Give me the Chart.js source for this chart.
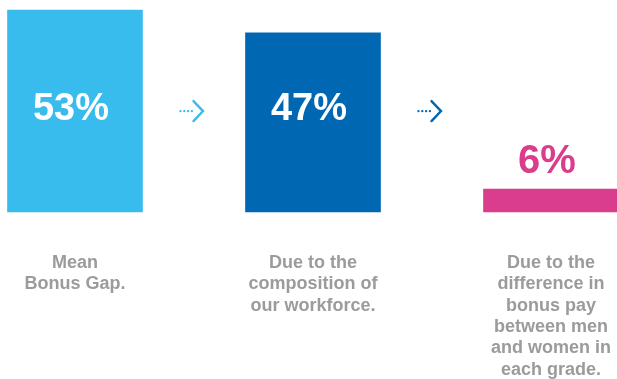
<!DOCTYPE html>
<html lang="en">
<head>
  <meta charset="UTF-8">
  <title>Bonus Gap</title>
  <script src="https://cdn.jsdelivr.net/npm/chart.js"></script>
  <style>
    body { margin: 0; background: #ffffff; }
    .chart-container { width: 617px; height: 379px; position: relative; }
  </style>
</head>
<body>
  <div class="chart-container"><canvas id="gapChart"></canvas></div>
  <script>
    // data
    const categories = [
      ["Mean", "Bonus Gap."],
      ["Due to the", "composition of", "our workforce."],
      ["Due to the", "difference in", "bonus pay", "between men", "and women in", "each grade."]
    ];
    const gapValues = [53, 47, 6];
    const barColors = ["#38BCEE", "#0068B2", "#DB3D8D"];

    const FONT = '"Liberation Sans", Arial, Helvetica, sans-serif';

    function drawArrow(ctx, cx, cy, color) {
      ctx.fillStyle = color;
      ctx.strokeStyle = color;
      for (let k = 0; k < 4; k++) {
        ctx.beginPath();
        ctx.arc(cx - 11 + k * 3.8, cy, 1.2, 0, Math.PI * 2);
        ctx.fill();
      }
      ctx.lineWidth = 2.4;
      ctx.lineCap = 'round';
      ctx.lineJoin = 'miter';
      ctx.beginPath();
      ctx.moveTo(cx + 2, cy - 10);
      ctx.lineTo(cx + 11.5, cy);
      ctx.lineTo(cx + 2, cy + 10);
      ctx.stroke();
    }

    const annotate = {
      id: 'annotate',
      afterDatasetsDraw(chart) {
        const { ctx, scales: { y } } = chart;
        const bars = chart.getDatasetMeta(0).data;
        const midY = y.getPixelForValue(27);
        ctx.save();
        ctx.textAlign = 'center';
        ctx.textBaseline = 'middle';
        bars.forEach((bar, i) => {
          const v = gapValues[i];
          if (v > 20) {
            ctx.fillStyle = '#ffffff';
            ctx.font = 'bold 38px ' + FONT;
            ctx.fillText(v + '%', bar.x - 4, midY);
          } else {
            ctx.fillStyle = barColors[i];
            ctx.font = 'bold 40px ' + FONT;
            ctx.fillText(v + '%', bar.x - 4, bar.y - 27);
          }
        });
        // arrows sit a fixed gap after the right edge of the bar before them
        for (let i = 0; i < bars.length - 1; i++) {
          const right = bars[i].x + bars[i].width / 2;
          drawArrow(ctx, right + 49, midY + 2, barColors[i]);
        }
        ctx.restore();
      }
    };

    new Chart(document.getElementById('gapChart').getContext('2d'), {
      type: 'bar',
      data: {
        labels: categories,
        datasets: [{
          data: gapValues,
          backgroundColor: barColors,
          borderWidth: 0,
          barThickness: 135,
          clip: false
        }]
      },
      options: {
        responsive: true,
        maintainAspectRatio: false,
        animation: false,
        layout: { padding: { top: 10, left: 75, right: 66, bottom: 0 } },
        plugins: { legend: { display: false }, tooltip: { enabled: false } },
        scales: {
          x: {
            offset: false,
            grid: { display: false, drawTicks: false },
            border: { display: false },
            ticks: {
              color: '#9B9B9B',
              padding: 40,
              maxRotation: 0,
              autoSkip: false,
              font: { family: FONT, size: 18, weight: 'bold', lineHeight: 1.19 }
            },
            afterFit(scale) {
              scale.paddingLeft = 0;
              scale.paddingRight = 0;
              scale.height = 167;
            }
          },
          y: {
            display: false,
            min: 0,
            max: 53
          }
        }
      },
      plugins: [annotate]
    });
  </script>
</body>
</html>
